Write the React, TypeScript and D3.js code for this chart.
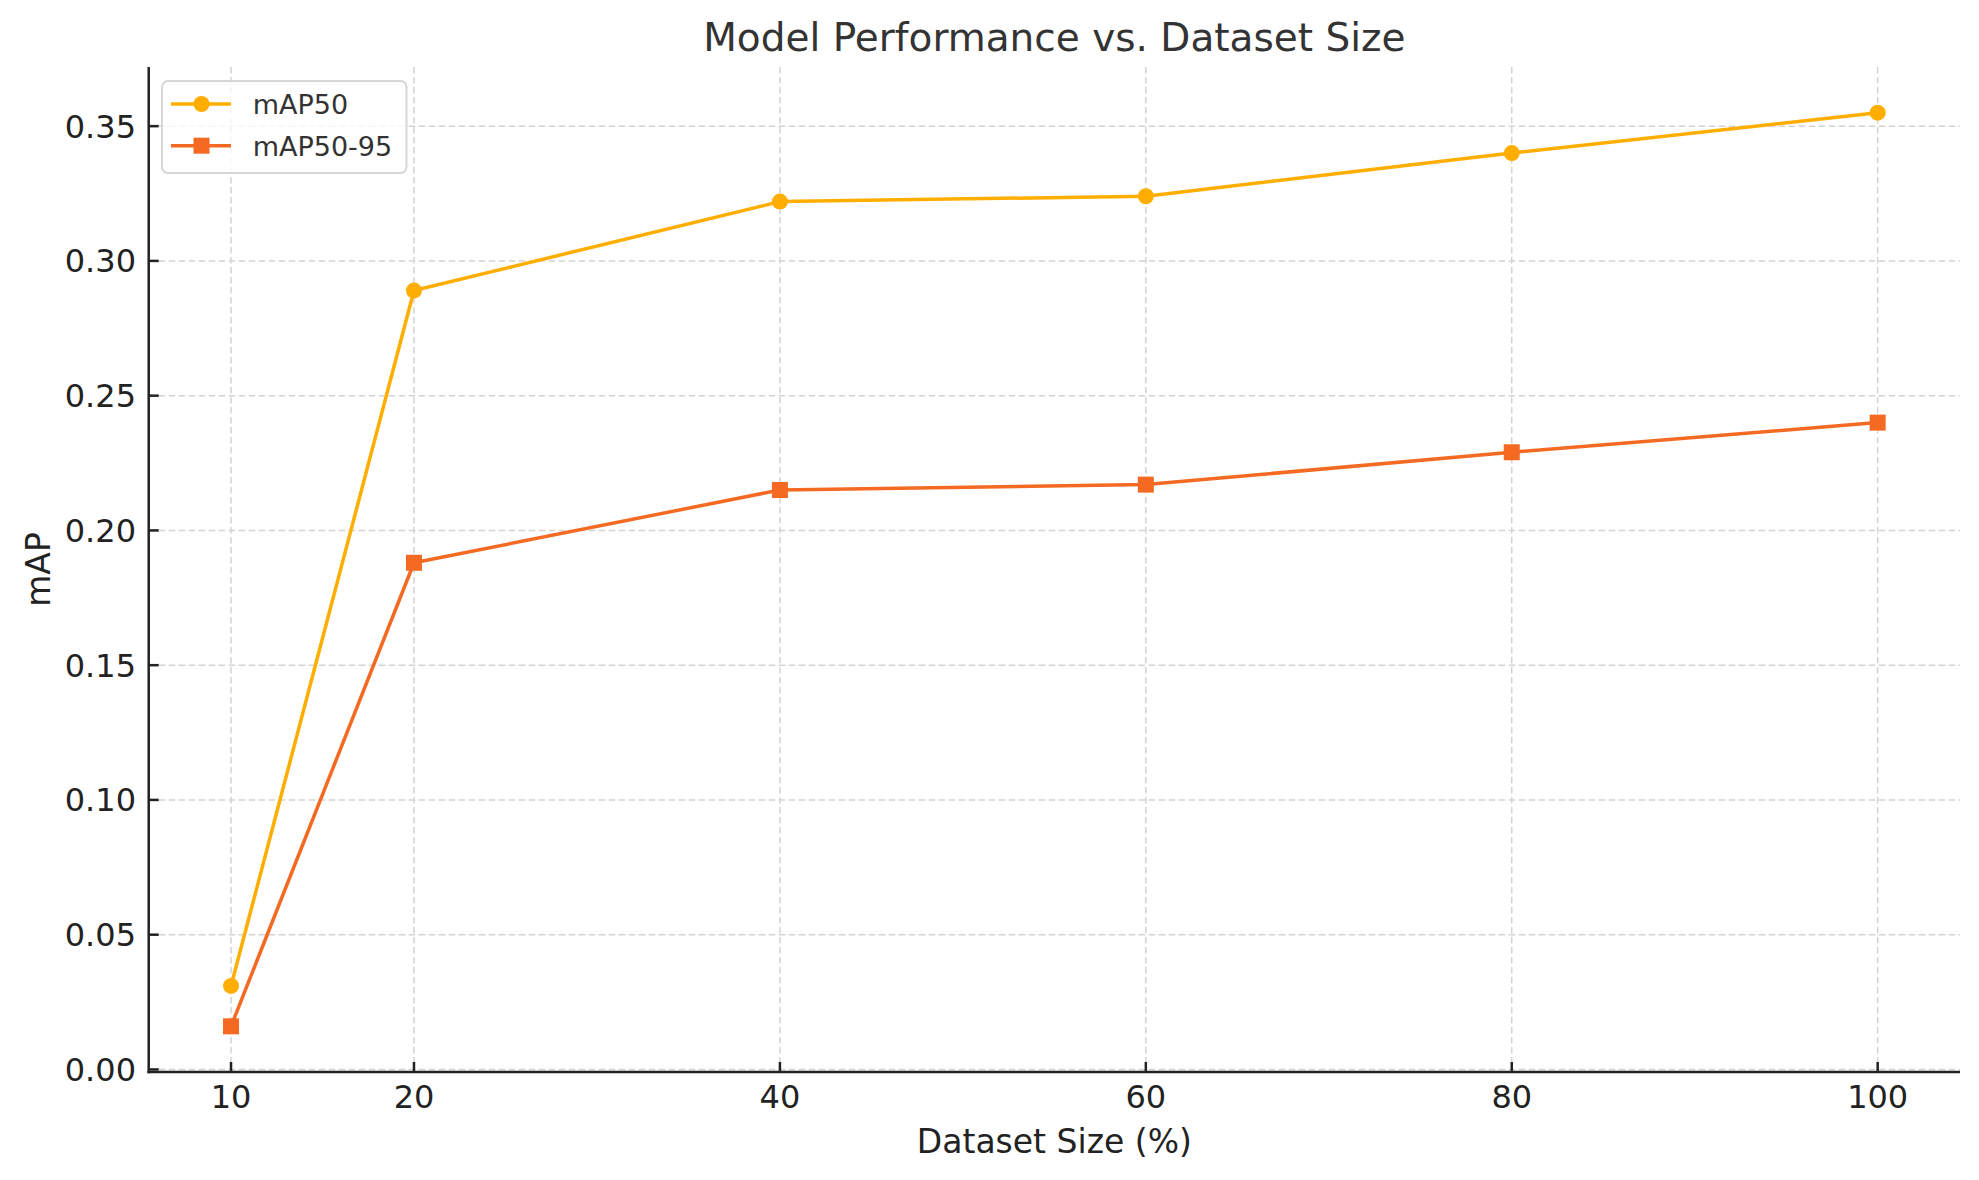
import React from "react";
import * as d3 from "d3";

const datasetSizes = [10, 20, 40, 60, 80, 100];
const map50 = [0.031, 0.289, 0.322, 0.324, 0.34, 0.355];
const map5095 = [0.016, 0.188, 0.215, 0.217, 0.229, 0.24];
const yTicks = [0, 0.05, 0.1, 0.15, 0.2, 0.25, 0.3, 0.35];
const seriesNames = ["mAP50", "mAP50-95"];
const seriesColors = ["#FFAE00", "#F46A22"];

const W = 1979;
const H = 1180;
const M = { left: 148.7, right: 1960, top: 67, bottom: 1072 };
const FONT = "DejaVu Sans, sans-serif";

export default function App() {
  const x = d3.scaleLinear().domain([5.5, 104.5]).range([M.left, M.right]);
  const y = d3.scaleLinear().domain([-0.00095, 0.37195]).range([M.bottom, M.top]);
  const line = d3
    .line<number>()
    .x((_, i) => x(datasetSizes[i]))
    .y((d) => y(d));
  const series = [map50, map5095];

  return (
    <svg
      width={W}
      height={H}
      style={{ position: "absolute", left: 0, top: 0, background: "#fff" }}
      fontFamily={FONT}
    >
      <rect x={0} y={0} width={W} height={H} fill="#fff" />
      {/* grid */}
      {datasetSizes.map((t) => (
        <line
          key={"gx" + t}
          x1={x(t)}
          x2={x(t)}
          y1={M.top}
          y2={M.bottom}
          stroke="#d3d3d3"
          strokeWidth={1.5}
          strokeDasharray="6.5,3.5"
        />
      ))}
      {yTicks.map((t) => (
        <line
          key={"gy" + t}
          x1={M.left}
          x2={M.right}
          y1={y(t)}
          y2={y(t)}
          stroke="#d3d3d3"
          strokeWidth={1.5}
          strokeDasharray="6.5,3.5"
        />
      ))}
      {/* series */}
      {series.map((s, si) => (
        <g key={"s" + si}>
          <path d={line(s) || ""} fill="none" stroke={seriesColors[si]} strokeWidth={3.5} strokeLinejoin="round" />
          {s.map((v, i) =>
            si === 0 ? (
              <circle key={i} cx={x(datasetSizes[i])} cy={y(v)} r={8} fill={seriesColors[si]} />
            ) : (
              <rect key={i} x={x(datasetSizes[i]) - 8} y={y(v) - 8} width={16} height={16} fill={seriesColors[si]} />
            )
          )}
        </g>
      ))}
      {/* spines */}
      <line x1={M.left} x2={M.left} y1={M.top} y2={M.bottom + 1.25} stroke="#222" strokeWidth={2.5} />
      <line x1={M.left - 1.25} x2={M.right} y1={M.bottom} y2={M.bottom} stroke="#222" strokeWidth={2.5} />
      {/* y ticks */}
      {yTicks.map((t) => (
        <g key={"yt" + t}>
          <line x1={M.left} x2={M.left + 10} y1={y(t)} y2={y(t)} stroke="#222" strokeWidth={2.5} />
          <text x={136} y={y(t)} dy="0.36em" textAnchor="end" fontSize={32} fill="#222">
            {t.toFixed(2)}
          </text>
        </g>
      ))}
      {/* x ticks */}
      {datasetSizes.map((t) => (
        <g key={"xt" + t}>
          <line x1={x(t)} x2={x(t)} y1={M.bottom} y2={M.bottom - 10} stroke="#222" strokeWidth={2.5} />
          <text x={x(t)} y={1108} textAnchor="middle" fontSize={32} fill="#222">
            {t}
          </text>
        </g>
      ))}
      {/* axis labels */}
      <text x={(M.left + M.right) / 2} y={1153} textAnchor="middle" fontSize={33} fill="#222">
        Dataset Size (%)
      </text>
      <text
        transform={`translate(50,${(M.top + M.bottom) / 2}) rotate(-90)`}
        textAnchor="middle"
        fontSize={33}
        fill="#222"
      >
        mAP
      </text>
      {/* title */}
      <text x={(M.left + M.right) / 2} y={50.5} textAnchor="middle" fontSize={39} fill="#333">
        Model Performance vs. Dataset Size
      </text>
      {/* legend */}
      <rect x={162} y={81} width={244.5} height={92} rx={6} fill="#fff" fillOpacity={0.8} stroke="#d6d6d6" strokeWidth={2} />
      {seriesNames.map((n, i) => {
        const cy = i === 0 ? 104 : 145.7;
        return (
          <g key={"lg" + i}>
            <line x1={171} x2={231} y1={cy} y2={cy} stroke={seriesColors[i]} strokeWidth={3.5} />
            {i === 0 ? (
              <circle cx={201.5} cy={cy} r={8} fill={seriesColors[i]} />
            ) : (
              <rect x={193.5} y={cy - 8} width={16} height={16} fill={seriesColors[i]} />
            )}
            <text x={252.7} y={cy + 10} fontSize={27} fill="#333">
              {n}
            </text>
          </g>
        );
      })}
    </svg>
  );
}
